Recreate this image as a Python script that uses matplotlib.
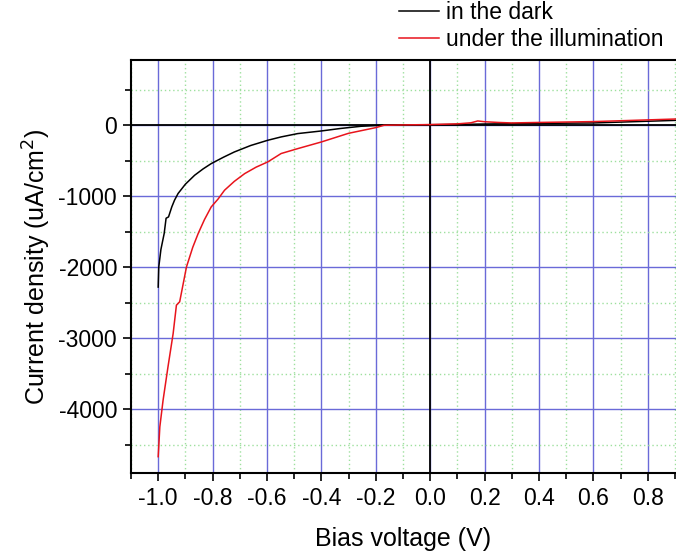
# -*- coding: utf-8 -*-
import numpy as np
import matplotlib as mpl
mpl.use("Agg")
import matplotlib.pyplot as plt
from matplotlib.ticker import MultipleLocator, FormatStrFormatter

mpl.rcParams['font.family'] = ['Liberation Sans', 'DejaVu Sans']
mpl.rcParams['axes.unicode_minus'] = False

# dark current
v_dark = [-1.000, -0.998, -0.990, -0.978, -0.971, -0.962, -0.950, -0.940, -0.927,
          -0.900, -0.866, -0.835, -0.805, -0.760, -0.720, -0.660, -0.597, -0.548,
          -0.487, -0.400, -0.330, -0.254, -0.180, -0.100, 0.000, 0.100, 0.200,
          0.300, 0.400, 0.500, 0.600, 0.700, 0.800, 0.908]
j_dark = [-2280, -2000, -1750, -1525, -1310, -1291, -1150, -1056, -962,
          -830, -704, -615, -540, -450, -376, -285, -211, -164,
          -117, -80, -45, -14, 0, 5, 8, 12, 18,
          22, 26, 30, 33, 45, 57, 70]

# illuminated
v_light = [-1.000, -0.994, -0.982, -0.964, -0.945, -0.933, -0.921, -0.896, -0.873,
           -0.853, -0.830, -0.805, -0.780, -0.756, -0.720, -0.682, -0.640, -0.597,
           -0.548, -0.487, -0.400, -0.300, -0.200, -0.170, -0.100, 0.000, 0.100,
           0.150, 0.175, 0.200, 0.250, 0.300, 0.400, 0.500, 0.600, 0.700, 0.800, 0.908]
j_light = [-4670, -4250, -3873, -3404, -2934, -2535, -2487, -1996, -1720,
           -1525, -1330, -1150, -1040, -915, -790, -681, -590, -516,
           -398, -329, -235, -113, -33, 0, 5, 10, 20,
           35, 61, 50, 40, 33, 40, 46, 52, 64, 76, 89]

labels = ['in the dark', 'under the illumination']

fig = plt.figure(figsize=(6.76, 5.58), dpi=100)
# plot is cropped at the right edge in the original
ax = fig.add_axes([131/676., 85/558., 545/676., 413/558.])

major_blue = '#6a6ad8'
minor_green = '#9ee09e'

ax.xaxis.set_major_locator(MultipleLocator(0.2))
ax.xaxis.set_minor_locator(MultipleLocator(0.1))
ax.yaxis.set_major_locator(MultipleLocator(1000))
ax.yaxis.set_minor_locator(MultipleLocator(500))
ax.xaxis.set_major_formatter(FormatStrFormatter('%.1f'))

ax.grid(which='major', color=major_blue, lw=1.0, ls='-')
ax.grid(which='minor', color=minor_green, lw=1.0, ls=(0, (1, 2)))
ax.set_axisbelow(True)

ax.axhline(0, color='k', lw=1.3, zorder=1.5)
ax.axvline(0, color='k', lw=1.3, zorder=1.5)

l1, = ax.plot(v_dark, j_dark, c='k', lw=1.1, label=labels[0])
l2, = ax.plot(v_light, j_light, c='#e8141c', lw=1.1, label=labels[1])

ax.set_xlim(-1.1, 0.904)
ax.set_ylim(-4900, 920)

ax.tick_params(which='major', direction='out', length=6, width=1.2, labelsize=16.5, pad=4)
ax.tick_params(which='minor', direction='out', length=4, width=1.2)
for s in ax.spines.values():
    s.set_linewidth(1.5)
ax.spines['right'].set_visible(False)

ax.set_xlabel('Bias voltage (V)', fontsize=18, labelpad=12)
ax.set_ylabel('Current density (uA/cm$^2$)', fontsize=18, labelpad=4)

fig.legend(handles=[l1, l2], loc='upper left', bbox_to_anchor=(399/676., 0.999),
           frameon=False, fontsize=16.5, handlelength=1.75, handletextpad=0.28,
           labelspacing=0.19, borderpad=0.0, borderaxespad=0.0)

fig.savefig('out.png', dpi=100)
